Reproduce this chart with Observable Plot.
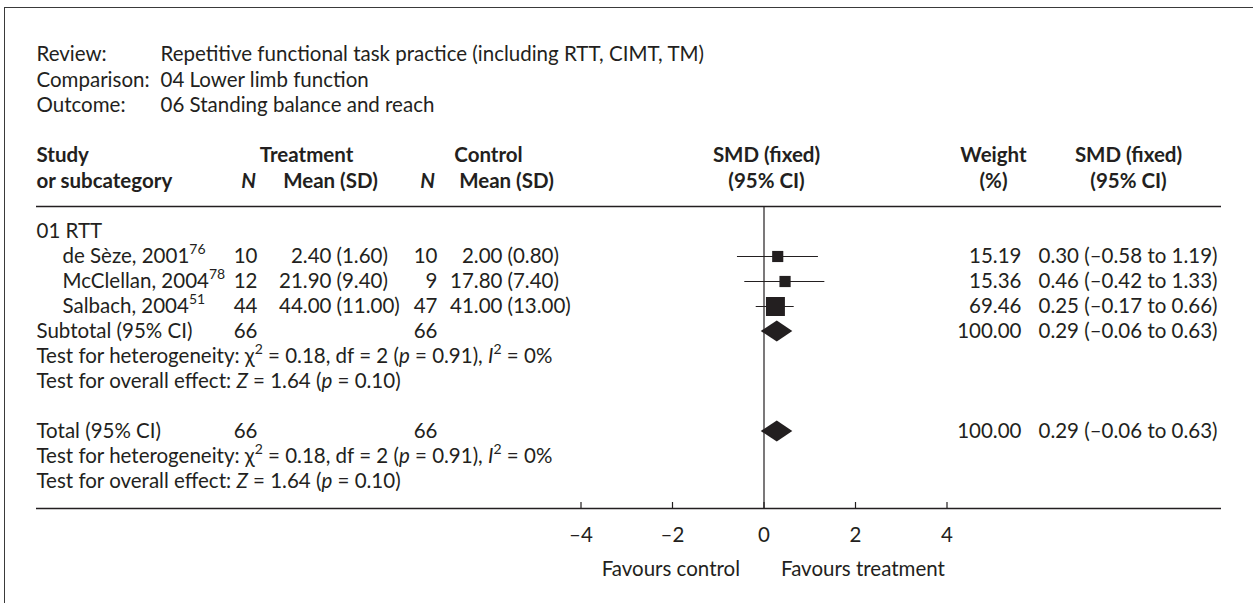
<!DOCTYPE html>
<html><head><meta charset="utf-8">
<script src="https://cdn.jsdelivr.net/npm/d3@7"></script>
<script src="https://cdn.jsdelivr.net/npm/@observablehq/plot@0.6"></script>
<style>
html,body{margin:0;padding:0;background:#fff;}
#wrap{position:relative;width:1253px;height:603px;overflow:hidden;background:#fff;}
#frame{position:absolute;left:4px;top:7px;width:1300px;height:700px;border-top:1.6px solid #3a3a3a;border-left:1.6px solid #3a3a3a;pointer-events:none;}
svg text{font-kerning:normal;}
</style></head><body>
<div id="wrap"><div id="chart"></div><div id="frame"></div></div>
<script>
// ---------- data ----------
const metaLabels = ["Review:", "Comparison:", "Outcome:"];
const metaValues = ["Repetitive functional task practice (including RTT, CIMT, TM)", "04 Lower limb function", "06 Standing balance and reach"];
const subgroup = "01 RTT";
const studies = ["de Sèze, 2001", "McClellan, 2004", "Salbach, 2004"];
const refs = ["76", "78", "51"];
const treatN = [10, 12, 44];
const treatMean = ["2.40", "21.90", "44.00"];
const treatSD = ["1.60", "9.40", "11.00"];
const ctrlN = [10, 9, 47];
const ctrlMean = ["2.00", "17.80", "41.00"];
const ctrlSD = ["0.80", "7.40", "13.00"];
const smd = [0.30, 0.46, 0.25];
const ciLo = [-0.58, -0.42, -0.17];
const ciHi = [1.19, 1.33, 0.66];
const weight = [15.19, 15.36, 69.46];
const summaryLabels = ["Subtotal (95% CI)", "Total (95% CI)"];
const summaryTreatN = [66, 66];
const summaryCtrlN = [66, 66];
const summarySMD = [0.29, 0.29];
const summaryLo = [-0.06, -0.06];
const summaryHi = [0.63, 0.63];
const summaryWeight = [100.00, 100.00];
const hetChi2 = ["0.18", "0.18"];
const hetDf = [2, 2];
const hetP = ["0.91", "0.91"];
const hetI2 = ["0%", "0%"];
const overallZ = ["1.64", "1.64"];
const overallP = ["0.10", "0.10"];
const xTicks = [-4, -2, 0, 2, 4];
const favours = ["Favours control", "Favours treatment"];

// ---------- layout ----------
const W = 1253, H = 603;
const ZERO_PX = 763.5, PXU = 45.75;       // x pixel of 0 and pixels per SMD unit
const ML = 36, MR = W - 1221;             // table frame
const ROW0 = 231, ROWH = 25;              // first row centre and row pitch
const R_TOP = (0 - ROW0) / ROWH, R_BOT = (H - ROW0) / ROWH;
const AXIS_ROW = (508 - ROW0) / ROWH;
const TICK = 6 / ROWH;
const INK = "#231f20";
const FS = 20.5;

const studyRows = [1, 2, 3];
const summaryRows = [4, 8];
const hetRows = [5, 9];
const overallRows = [6, 10];
const idx = d3.range(studies.length);
const sidx = d3.range(summaryRows.length);

const num = v => (v < 0 ? "–" : "") + Math.abs(v).toFixed(2);
const ci = (e, l, h) => `${num(e)} (${num(l)} to ${num(h)})`;
const tickFmt = d => (d < 0 ? "–" : "") + Math.abs(d);

const col = px => px - ML;
function txt(data, o) {
  return Plot.text(data, {frameAnchor: "left", lineAnchor: "middle", fill: INK, ...o, dx: col(o.px)});
}

// diamond polygons built from summary estimates
const diamonds = sidx.flatMap(i => [
  {g: i, y: summaryRows[i] - 0.42, x1: summarySMD[i], x2: summarySMD[i]},
  {g: i, y: summaryRows[i], x1: summaryLo[i], x2: summaryHi[i]},
  {g: i, y: summaryRows[i] + 0.42, x1: summarySMD[i], x2: summarySMD[i]}
]);

const chart = Plot.plot({
  width: W, height: H,
  marginLeft: ML, marginRight: MR, marginTop: 0, marginBottom: 0,
  x: {domain: [(ML - ZERO_PX) / PXU, (W - MR - ZERO_PX) / PXU], axis: null},
  y: {domain: [R_TOP, R_BOT], range: [0, H], axis: null},
  r: {type: "pow", exponent: 0.35, domain: [0, d3.max(weight)], range: [0, 10.7]},
  style: {fontFamily: "Lato, 'Open Sans', sans-serif", fontSize: FS + "px", color: INK, background: "transparent", overflow: "visible"},
  marks: [
    // rules
    Plot.ruleY([-1, AXIS_ROW], {stroke: INK, strokeWidth: 1.3}),
    Plot.ruleX([0], {y1: -1, y2: AXIS_ROW, stroke: INK, strokeWidth: 1.2}),
    Plot.ruleX(xTicks, {x: d => d, y1: AXIS_ROW, y2: AXIS_ROW - TICK, stroke: INK, strokeWidth: 1.2}),
    Plot.text(xTicks, {x: d => d, y: (535 - ROW0) / ROWH, text: tickFmt, fill: INK, lineAnchor: "middle"}),
    Plot.text([favours[0]], {x: 0, y: (569 - ROW0) / ROWH, text: d => d, dx: -24, textAnchor: "end", lineAnchor: "middle", fill: INK}),
    Plot.text([favours[1]], {x: 0, y: (569 - ROW0) / ROWH, text: d => d, dx: 17, textAnchor: "start", lineAnchor: "middle", fill: INK}),
    // study CIs and squares
    Plot.ruleY(idx, {y: i => studyRows[i], x1: i => ciLo[i], x2: i => ciHi[i], stroke: INK, strokeWidth: 1.1}),
    Plot.dot(idx, {x: i => smd[i], y: i => studyRows[i], r: i => weight[i], symbol: "square", fill: INK, stroke: "none"}),
    // pooled diamonds
    Plot.areaX(diamonds, {y: "y", x1: "x1", x2: "x2", z: "g", fill: INK, curve: "linear"}),

    // meta header
    txt([0, 1, 2], {px: ML, y: i => [-7.08, -6.04, -5.04][i], text: i => metaLabels[i]}),
    txt([0, 1, 2], {px: 160, y: i => [-7.08, -6.04, -5.04][i], text: i => metaValues[i]}),
    // column headers
    txt(["Study"], {px: ML, y: -3.04, text: d => d, fontWeight: "bold"}),
    txt(["or subcategory"], {px: ML, y: -2, text: d => d, fontWeight: "bold"}),
    txt(["Treatment"], {px: 306, y: -3.04, text: d => d, fontWeight: "bold", textAnchor: "middle"}),
    txt(["N"], {px: 248, y: -2, text: d => d, fontWeight: "bold", fontStyle: "italic", textAnchor: "middle"}),
    txt(["Mean (SD)"], {px: 330, y: -2, text: d => d, fontWeight: "bold", textAnchor: "middle"}),
    txt(["Control"], {px: 488, y: -3.04, text: d => d, fontWeight: "bold", textAnchor: "middle"}),
    txt(["N"], {px: 427, y: -2, text: d => d, fontWeight: "bold", fontStyle: "italic", textAnchor: "middle"}),
    txt(["Mean (SD)"], {px: 506, y: -2, text: d => d, fontWeight: "bold", textAnchor: "middle"}),
    txt(["SMD (fixed)"], {px: 766, y: -3.04, text: d => d, fontWeight: "bold", textAnchor: "middle"}),
    txt(["(95% CI)"], {px: 766, y: -2, text: d => d, fontWeight: "bold", textAnchor: "middle"}),
    txt(["Weight"], {px: 993, y: -3.04, text: d => d, fontWeight: "bold", textAnchor: "middle"}),
    txt(["(%)"], {px: 993, y: -2, text: d => d, fontWeight: "bold", textAnchor: "middle"}),
    txt(["SMD (fixed)"], {px: 1128, y: -3.04, text: d => d, fontWeight: "bold", textAnchor: "middle"}),
    txt(["(95% CI)"], {px: 1128, y: -2, text: d => d, fontWeight: "bold", textAnchor: "middle"}),

    // subgroup + studies
    txt([subgroup], {px: ML, y: 0, text: d => d}),
    txt(idx, {px: 62, y: i => studyRows[i], text: i => `${studies[i]}^{${refs[i]}}`}),
    txt(idx, {px: 257, y: i => studyRows[i], text: i => String(treatN[i]), textAnchor: "end"}),
    txt(idx, {px: 331, y: i => studyRows[i], text: i => treatMean[i], textAnchor: "end"}),
    txt(idx, {px: 336, y: i => studyRows[i], text: i => `(${treatSD[i]})`}),
    txt(idx, {px: 437, y: i => studyRows[i], text: i => String(ctrlN[i]), textAnchor: "end"}),
    txt(idx, {px: 502, y: i => studyRows[i], text: i => ctrlMean[i], textAnchor: "end"}),
    txt(idx, {px: 507, y: i => studyRows[i], text: i => `(${ctrlSD[i]})`}),
    txt(idx, {px: 1021, y: i => studyRows[i], text: i => weight[i].toFixed(2), textAnchor: "end"}),
    txt(idx, {px: 1038, y: i => studyRows[i], text: i => ci(smd[i], ciLo[i], ciHi[i])}),

    // summaries
    txt(sidx, {px: ML, y: i => summaryRows[i], text: i => summaryLabels[i]}),
    txt(sidx, {px: 257, y: i => summaryRows[i], text: i => String(summaryTreatN[i]), textAnchor: "end"}),
    txt(sidx, {px: 437, y: i => summaryRows[i], text: i => String(summaryCtrlN[i]), textAnchor: "end"}),
    txt(sidx, {px: 1021, y: i => summaryRows[i], text: i => summaryWeight[i].toFixed(2), textAnchor: "end"}),
    txt(sidx, {px: 1038, y: i => summaryRows[i], text: i => ci(summarySMD[i], summaryLo[i], summaryHi[i])}),
    txt(sidx, {px: ML, y: i => hetRows[i], text: i => `Test for heterogeneity: χ^{2} = ${hetChi2[i]}, df = ${hetDf[i]} (*p* = ${hetP[i]}), *I*^{2} = ${hetI2[i]}`}),
    txt(sidx, {px: ML, y: i => overallRows[i], text: i => `Test for overall effect: *Z* = ${overallZ[i]} (*p* = ${overallP[i]})`})
  ]
});

// rich text: ^{sup} and *italic*
const esc = s => s.replace(/&/g, "&amp;").replace(/</g, "&lt;");
function richify(s) {
  const re = /\^\{([^}]*)\}|\*([^*]*)\*|([^^*]+)/g;
  let out = "", down = false, m;
  const up = (FS * 0.42).toFixed(1);
  while ((m = re.exec(s))) {
    if (m[1] !== undefined) {
      out += `<tspan dy="-${up}" font-size="${Math.round(FS * 0.68)}">${esc(m[1])}</tspan>`;
      down = true;
    } else {
      const t = m[2] !== undefined ? m[2] : m[3];
      const st = m[2] !== undefined ? ' font-style="italic"' : "";
      out += `<tspan${down ? ` dy="${up}"` : ""}${st}>${esc(t)}</tspan>`;
      down = false;
    }
  }
  return out;
}
chart.querySelectorAll("text").forEach(t => {
  const s = t.textContent;
  if (/\^\{|\*/.test(s)) t.innerHTML = richify(s);
});
document.getElementById("chart").appendChild(chart);
</script>
</body></html>
